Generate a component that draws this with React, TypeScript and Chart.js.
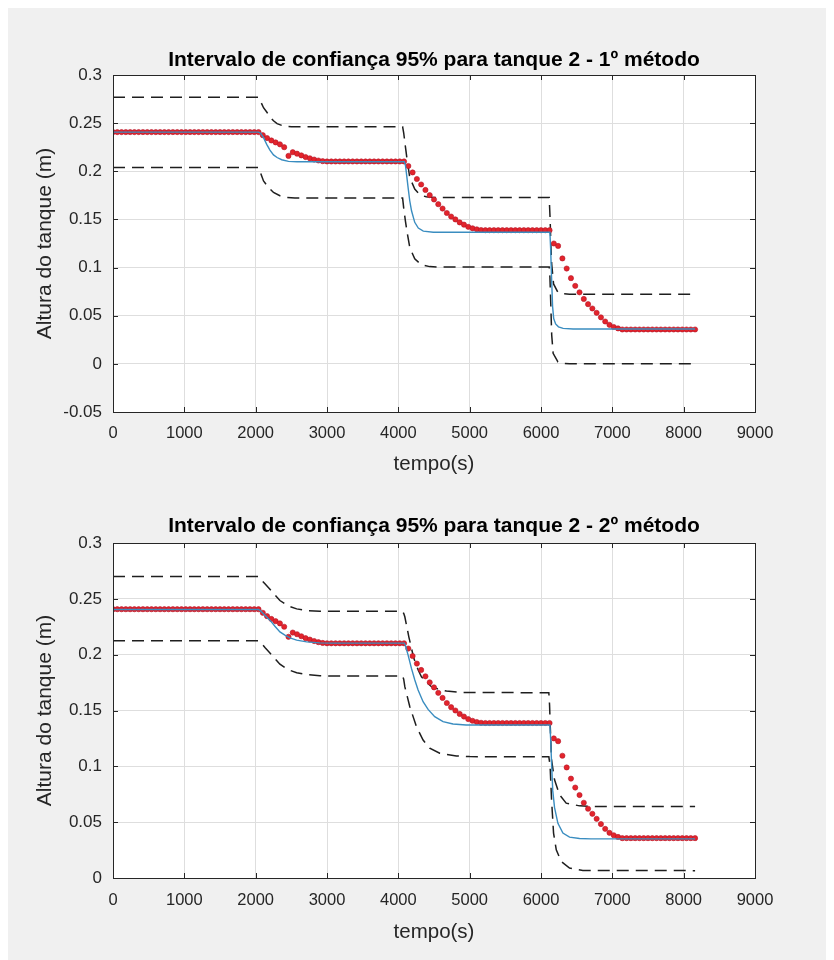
import React, { useEffect, useRef } from "react";
import { Chart, registerables } from "chart.js";

Chart.register(...registerables);

// ---------- DATA ----------
const titulo1 = "Intervalo de confiança 95% para tanque 2 - 1º método";
const titulo2 = "Intervalo de confiança 95% para tanque 2 - 2º método";
const rotuloX = "tempo(s)";
const rotuloY = "Altura do tanque (m)";

const ticksX = [0, 1000, 2000, 3000, 4000, 5000, 6000, 7000, 8000, 9000];
const ticksY1 = [-0.05, 0, 0.05, 0.1, 0.15, 0.2, 0.25, 0.3];
const ticksY2 = [0, 0.05, 0.1, 0.15, 0.2, 0.25, 0.3];

// measured samples (red dots), shared by both plots
const tempo = [
  0, 60, 120, 180, 240, 300, 360, 420, 480, 540,
  600, 660, 720, 780, 840, 900, 960, 1020, 1080, 1140,
  1200, 1260, 1320, 1380, 1440, 1500, 1560, 1620, 1680, 1740,
  1800, 1860, 1920, 1980, 2040, 2100, 2160, 2220, 2280, 2340,
  2400, 2460, 2520, 2580, 2640, 2700, 2760, 2820, 2880, 2940,
  3000, 3060, 3120, 3180, 3240, 3300, 3360, 3420, 3480, 3540,
  3600, 3660, 3720, 3780, 3840, 3900, 3960, 4020, 4080, 4140,
  4200, 4260, 4320, 4380, 4440, 4500, 4560, 4620, 4680, 4740,
  4800, 4860, 4920, 4980, 5040, 5100, 5160, 5220, 5280, 5340,
  5400, 5460, 5520, 5580, 5640, 5700, 5760, 5820, 5880, 5940,
  6000, 6060, 6120, 6180, 6240, 6300, 6360, 6420, 6480, 6540,
  6600, 6660, 6720, 6780, 6840, 6900, 6960, 7020, 7080, 7140,
  7200, 7260, 7320, 7380, 7440, 7500, 7560, 7620, 7680, 7740,
  7800, 7860, 7920, 7980, 8040, 8100, 8160,
];
const alturaMedida = [
  0.2407, 0.2407, 0.2407, 0.2407, 0.2407, 0.2407, 0.2407, 0.2407, 0.2407, 0.2407,
  0.2407, 0.2407, 0.2407, 0.2407, 0.2407, 0.2407, 0.2407, 0.2407, 0.2407, 0.2407,
  0.2407, 0.2407, 0.2407, 0.2407, 0.2407, 0.2407, 0.2407, 0.2407, 0.2407, 0.2407,
  0.2407, 0.2407, 0.2407, 0.2407, 0.2407, 0.2375, 0.2345, 0.232, 0.23, 0.228,
  0.225, 0.216, 0.2198, 0.2183, 0.2165, 0.2148, 0.2135, 0.2122, 0.2112, 0.2105,
  0.2102, 0.2102, 0.2102, 0.2102, 0.2102, 0.2102, 0.2102, 0.2102, 0.2102, 0.2102,
  0.2102, 0.2102, 0.2102, 0.2102, 0.2102, 0.2102, 0.2102, 0.2102, 0.2102, 0.2055,
  0.1988, 0.192, 0.1863, 0.1806, 0.1752, 0.1707, 0.1658, 0.1613, 0.1567, 0.153,
  0.15, 0.1469, 0.1446, 0.1423, 0.1408, 0.1397, 0.139, 0.1388, 0.1388, 0.1388,
  0.1388, 0.1388, 0.1388, 0.1388, 0.1388, 0.1388, 0.1388, 0.1388, 0.1388, 0.1388,
  0.1388, 0.1388, 0.1388, 0.125, 0.1225, 0.1095, 0.099, 0.089, 0.081, 0.0743,
  0.0674, 0.062, 0.0575, 0.053, 0.0483, 0.044, 0.0405, 0.0383, 0.0368, 0.0357,
  0.0357, 0.0357, 0.0357, 0.0357, 0.0357, 0.0357, 0.0357, 0.0357, 0.0357, 0.0357,
  0.0357, 0.0357, 0.0357, 0.0357, 0.0357, 0.0357, 0.0357,
];

// método 1 - model (blue) and 95% bounds (dashed)
const tempoModelo1 = [0, 2040, 2070, 2110, 2155, 2200, 2250, 2300, 2365, 2460, 2580, 4085, 4100, 4115, 4137, 4160, 4185, 4230, 4280, 4350, 4490, 6125, 6135, 6148, 6162, 6178, 6205, 6245, 6310, 6450, 8160];
const alturaModelo1 = [0.2407, 0.2407, 0.2395, 0.235, 0.228, 0.222, 0.217, 0.2143, 0.212, 0.2103, 0.2099, 0.2099, 0.206, 0.197, 0.183, 0.1694, 0.159, 0.147, 0.141, 0.1378, 0.1367, 0.1367, 0.12, 0.09, 0.06, 0.047, 0.0415, 0.0385, 0.0368, 0.0362, 0.0362];
const tempoSup1 = [0, 2040, 2060, 2110, 2160, 2200, 2250, 2300, 2390, 2500, 4060, 4075, 4100, 4125, 4160, 4230, 4300, 4390, 4500, 6115, 6128, 6140, 6150, 6176, 6237, 6300, 6400, 8160];
const limiteSup1 = [0.2768, 0.2768, 0.274, 0.266, 0.261, 0.2565, 0.2525, 0.2495, 0.247, 0.2463, 0.2463, 0.24, 0.225, 0.211, 0.1936, 0.1815, 0.1756, 0.1735, 0.1729, 0.1729, 0.15, 0.12, 0.1037, 0.083, 0.0743, 0.0728, 0.0724, 0.0724];
const tempoInf1 = [0, 2040, 2060, 2110, 2180, 2250, 2340, 2440, 2550, 4060, 4075, 4100, 4120, 4160, 4230, 4320, 4440, 4600, 6115, 6125, 6138, 6150, 6170, 6237, 6300, 6400, 8160];
const limiteInf1 = [0.204, 0.204, 0.2, 0.19, 0.1832, 0.178, 0.1746, 0.1728, 0.1722, 0.1722, 0.162, 0.148, 0.138, 0.121, 0.109, 0.103, 0.101, 0.1005, 0.1005, 0.09, 0.06, 0.03, 0.011, 0.002, 0.0005, 0.0, 0.0];

// método 2 - model (blue) and 95% bounds (dashed)
const tempoModelo2 = [0, 2040, 2065, 2130, 2200, 2270, 2340, 2410, 2480, 2575, 2715, 2900, 3050, 4085, 4100, 4137, 4184, 4231, 4277, 4347, 4417, 4510, 4627, 4767, 4950, 6125, 6135, 6150, 6165, 6190, 6237, 6307, 6400, 6540, 6700, 8160];
const alturaModelo2 = [0.2405, 0.2405, 0.2395, 0.2354, 0.2309, 0.2255, 0.2204, 0.2175, 0.2151, 0.213, 0.2115, 0.2106, 0.2103, 0.2103, 0.208, 0.1996, 0.1877, 0.1773, 0.1683, 0.1579, 0.151, 0.1445, 0.14, 0.1379, 0.137, 0.137, 0.125, 0.1, 0.078, 0.063, 0.049, 0.0402, 0.0366, 0.0354, 0.035, 0.035];
const tempoSup2 = [0, 2040, 2065, 2130, 2200, 2270, 2340, 2410, 2480, 2575, 2715, 2900, 4060, 4075, 4091, 4147, 4217, 4280, 4324, 4400, 4464, 4570, 4674, 4900, 6110, 6120, 6130, 6148, 6190, 6260, 6353, 6540, 6700, 8160];
const limiteSup2 = [0.27, 0.27, 0.268, 0.2635, 0.2585, 0.2535, 0.2485, 0.2455, 0.243, 0.241, 0.2395, 0.2388, 0.2388, 0.237, 0.2339, 0.216, 0.1967, 0.186, 0.1802, 0.1752, 0.1713, 0.169, 0.1674, 0.1662, 0.1659, 0.155, 0.1355, 0.1057, 0.0879, 0.0745, 0.067, 0.0646, 0.0641, 0.064];
const tempoInf2 = [0, 2040, 2065, 2130, 2200, 2270, 2340, 2410, 2480, 2575, 2715, 2900, 3100, 4060, 4075, 4091, 4161, 4254, 4347, 4440, 4580, 4814, 5000, 6110, 6120, 6130, 6148, 6176, 6214, 6284, 6400, 6587, 8160];
const limiteInf2 = [0.2125, 0.2125, 0.2115, 0.2065, 0.2015, 0.1965, 0.1915, 0.1885, 0.186, 0.1838, 0.1822, 0.1812, 0.1808, 0.1808, 0.178, 0.1713, 0.1534, 0.1355, 0.1236, 0.1162, 0.1117, 0.1093, 0.1087, 0.1085, 0.104, 0.0968, 0.07, 0.0402, 0.0253, 0.0148, 0.0089, 0.0068, 0.0066];

// ---------- STYLE ----------
const FONTE = "'Liberation Sans', Arial, Helvetica, sans-serif";
const COR_EIXO = "#262626";
const COR_GRADE = "#dedede";
const COR_AZUL = "#3a8dc0";
const COR_VERMELHO = "#e3242b";
const COR_TRACO = "#1e1e1e";

const pares = (xs: number[], ys: number[]) => xs.map((x, i) => ({ x, y: ys[i] }));

const molduraPlugin = {
  id: "moldura",
  beforeDraw(chart: any) {
    const { ctx, chartArea: a } = chart;
    ctx.save();
    ctx.fillStyle = "#ffffff";
    ctx.fillRect(a.left, a.top, a.right - a.left, a.bottom - a.top);
    ctx.restore();
  },
  afterDraw(chart: any) {
    const { ctx, chartArea: a, scales } = chart;
    const L = 5;
    ctx.save();
    ctx.strokeStyle = COR_EIXO;
    ctx.lineWidth = 1;
    ctx.beginPath();
    scales.x.ticks.forEach((t: any) => {
      const px = Math.round(scales.x.getPixelForValue(t.value)) + 0.5;
      ctx.moveTo(px, a.bottom);
      ctx.lineTo(px, a.bottom - L);
      ctx.moveTo(px, a.top);
      ctx.lineTo(px, a.top + L);
    });
    scales.y.ticks.forEach((t: any) => {
      const py = Math.round(scales.y.getPixelForValue(t.value)) + 0.5;
      ctx.moveTo(a.left, py);
      ctx.lineTo(a.left + L, py);
      ctx.moveTo(a.right, py);
      ctx.lineTo(a.right - L, py);
    });
    ctx.stroke();
    ctx.strokeRect(Math.round(a.left) + 0.5, Math.round(a.top) + 0.5, Math.round(a.right - a.left), Math.round(a.bottom - a.top));
    ctx.restore();
  },
};

type Cfg = {
  titulo: string;
  ticksY: number[];
  yMin: number;
  modelo: { x: number; y: number }[];
  sup: { x: number; y: number }[];
  inf: { x: number; y: number }[];
  alturaX: number;
  tituloPad: { top: number; bottom: number };
  xTituloPadBottom: number;
  xTickPad: number;
};

function criarGrafico(canvas: HTMLCanvasElement, c: Cfg) {
  const medida = pares(tempo, alturaMedida);
  const tracejada = {
    showLine: true,
    borderColor: COR_TRACO,
    borderWidth: 1.5,
    borderDash: [12, 7],
    pointRadius: 0,
    order: 2,
  };
  return new Chart(canvas, {
    type: "scatter",
    data: {
      datasets: [
        {
          data: c.modelo,
          showLine: true,
          borderColor: COR_AZUL,
          borderWidth: 1.4,
          pointRadius: 0,
          order: 0,
        },
        {
          data: medida,
          showLine: false,
          pointRadius: 2.6,
          pointBackgroundColor: COR_VERMELHO,
          pointBorderColor: "#b3162a",
          pointBorderWidth: 0.6,
          order: 1,
        },
        { data: c.sup, ...tracejada },
        { data: c.inf, ...tracejada },
      ],
    } as any,
    options: {
      responsive: false,
      animation: false,
      devicePixelRatio: 1,
      layout: { padding: { left: 0, right: 79, top: 0, bottom: 0 } },
      plugins: {
        legend: { display: false },
        tooltip: { enabled: false },
        title: {
          display: true,
          fullSize: false,
          align: "center",
          text: c.titulo,
          color: "#000000",
          font: { family: FONTE, size: 21, weight: "bold" },
          padding: c.tituloPad,
        },
      },
      scales: {
        x: {
          type: "linear",
          min: 0,
          max: 9000,
          afterBuildTicks: (s: any) => {
            s.ticks = ticksX.map((v) => ({ value: v }));
          },
          afterFit: (s: any) => {
            s.height = c.alturaX;
          },
          grid: { color: COR_GRADE, drawTicks: false, lineWidth: 1 },
          border: { display: false },
          ticks: {
            autoSkip: false,
            maxRotation: 0,
            padding: c.xTickPad,
            color: COR_EIXO,
            font: { family: FONTE, size: 16.5 },
            callback: (v: any) => String(v),
          },
          title: {
            display: true,
            text: rotuloX,
            color: COR_EIXO,
            font: { family: FONTE, size: 20.5 },
            padding: { top: 0, bottom: c.xTituloPadBottom },
          },
        },
        y: {
          type: "linear",
          min: c.yMin,
          max: 0.3,
          afterBuildTicks: (s: any) => {
            s.ticks = c.ticksY.map((v) => ({ value: v }));
          },
          afterFit: (s: any) => {
            s.width = 105;
          },
          grid: { color: COR_GRADE, drawTicks: false, lineWidth: 1 },
          border: { display: false },
          ticks: {
            autoSkip: false,
            padding: 11,
            color: COR_EIXO,
            font: { family: FONTE, size: 17 },
            callback: (v: any) => String(v),
          },
          title: {
            display: true,
            text: rotuloY,
            color: COR_EIXO,
            font: { family: FONTE, size: 21 },
            padding: { top: 24.4, bottom: 0 },
          },
        },
      },
    } as any,
    plugins: [molduraPlugin],
  });
}

export default function App() {
  const ref1 = useRef<HTMLCanvasElement>(null);
  const ref2 = useRef<HTMLCanvasElement>(null);

  useEffect(() => {
    document.documentElement.style.overflow = "hidden";
    document.body.style.overflow = "hidden";
    const g1 = criarGrafico(ref1.current!, {
      titulo: titulo1,
      ticksY: ticksY1,
      yMin: -0.05,
      modelo: pares(tempoModelo1, alturaModelo1),
      sup: pares(tempoSup1, limiteSup1),
      inf: pares(tempoInf1, limiteInf1),
      alturaX: 66,
      tituloPad: { top: 40, bottom: 1.8 },
      xTituloPadBottom: 1,
      xTickPad: 11.5,
    });
    const g2 = criarGrafico(ref2.current!, {
      titulo: titulo2,
      ticksY: ticksY2,
      yMin: 0,
      modelo: pares(tempoModelo2, alturaModelo2),
      sup: pares(tempoSup2, limiteSup2),
      inf: pares(tempoInf2, limiteInf2),
      alturaX: 82,
      tituloPad: { top: 35.4, bottom: 4.4 },
      xTituloPadBottom: 15,
      xTickPad: 13,
    });
    return () => {
      g1.destroy();
      g2.destroy();
    };
  }, []);

  return (
    <div style={{ position: "relative", width: 826, height: 952, background: "#f0f0f0" }}>
      <canvas ref={ref1} width={826} height={470} style={{ position: "absolute", left: 0, top: 0, width: 826, height: 470 }} />
      <canvas ref={ref2} width={826} height={482} style={{ position: "absolute", left: 0, top: 470, width: 826, height: 482 }} />
    </div>
  );
}
